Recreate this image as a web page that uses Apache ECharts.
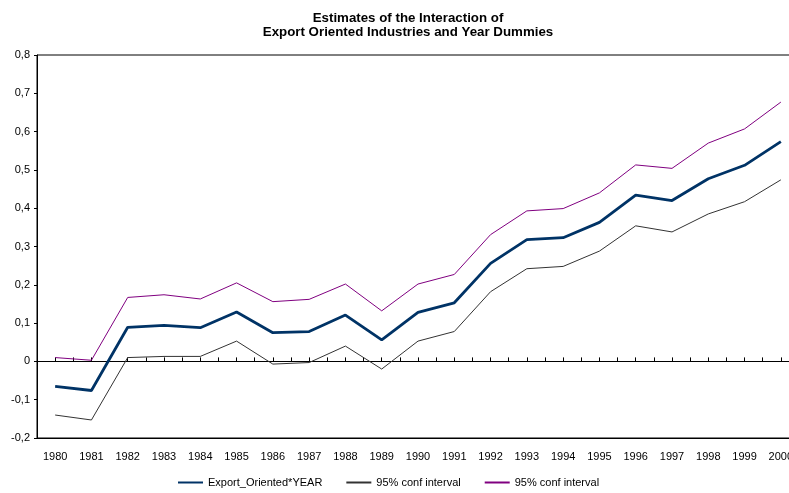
<!DOCTYPE html>
<html>
<head>
<meta charset="utf-8">
<script src="https://cdn.jsdelivr.net/npm/echarts@6/dist/echarts.min.js"></script>
<style>
  html, body { margin: 0; padding: 0; background: #fff; overflow: hidden; }
  #chart { width: 800px; height: 493px; }
</style>
</head>
<body>
<div id="chart"></div>
<script>
// years on the x axis
var years = ['1980', '1981', '1982', '1983', '1984', '1985', '1986', '1987', '1988', '1989', '1990',
    '1991', '1992', '1993', '1994', '1995', '1996', '1997', '1998', '1999', '2000'];
// point estimates
var estimate = [-0.065, -0.076, 0.089, 0.094, 0.088, 0.129, 0.075, 0.078, 0.121, 0.056, 0.128,
    0.153, 0.256, 0.318, 0.323, 0.363, 0.434, 0.420, 0.477, 0.512, 0.574];
// lower bound
var lower = [-0.140, -0.153, 0.010, 0.013, 0.013, 0.053, -0.007, -0.003, 0.040, -0.020, 0.053,
    0.078, 0.182, 0.242, 0.248, 0.288, 0.354, 0.338, 0.385, 0.417, 0.474];
// upper bound
var upper = [0.010, 0.003, 0.167, 0.174, 0.163, 0.205, 0.156, 0.162, 0.202, 0.132, 0.202,
    0.227, 0.331, 0.393, 0.399, 0.440, 0.513, 0.504, 0.570, 0.607, 0.677];

var font = 'Liberation Sans, Arial, sans-serif';
// the div is a little wider than the window so the plot runs off the right edge, like the original
var myChart = echarts.init(document.getElementById('chart'));
myChart.setOption({
    animation: false,
    backgroundColor: '#fff',
    title: {
        text: 'Estimates of the Interaction of\nExport Oriented Industries and Year Dummies',
        left: 403,
        top: 6,
        textAlign: 'center',
        textStyle: {fontFamily: font, fontSize: 13.3, fontWeight: 'bold', color: '#000', lineHeight: 14.5}
    },
    legend: {
        top: 477,
        left: 177,
        padding: 0,
        itemWidth: 25,
        itemHeight: 10,
        itemGap: 23,
        itemStyle: {opacity: 0},
        textStyle: {fontFamily: font, fontSize: 11, color: '#000'},
        data: ['Export_Oriented*YEAR', '95% conf interval', '95% conf interval ']
    },
    grid: {
        left: 37, top: 55, right: 1, bottom: 55,
        show: true, borderColor: '#000', borderWidth: 1
    },
    xAxis: [{
        type: 'category',
        data: years,
        position: 'bottom',
        axisLine: {onZero: false, lineStyle: {color: '#000'}},
        axisTick: {show: false},
        axisLabel: {fontFamily: font, fontSize: 11, color: '#000', margin: 13, interval: 0}
    }, {
        // tick marks along the zero line
        type: 'value',
        min: 0, max: 42, interval: 1,
        position: 'bottom',
        axisLine: {onZero: true, lineStyle: {color: '#000'}},
        axisTick: {show: true, inside: true, length: 4, lineStyle: {color: '#000'}},
        axisLabel: {show: false},
        splitLine: {show: false}
    }],
    yAxis: {
        type: 'value',
        min: -0.2, max: 0.8, interval: 0.1,
        axisLine: {show: true, lineStyle: {color: '#000'}},
        axisTick: {show: true, length: 3, lineStyle: {color: '#000'}},
        splitLine: {show: false},
        axisLabel: {
            fontFamily: font, fontSize: 11, color: '#000', margin: 7,
            formatter: function (v) { return String(Math.round(v * 10) / 10).replace('.', ','); }
        }
    },
    series: [{
        name: 'Export_Oriented*YEAR',
        type: 'line',
        data: estimate,
        symbol: 'none',
        lineStyle: {color: '#003366', width: 2.8},
        itemStyle: {color: '#003366'}
    }, {
        name: '95% conf interval',
        type: 'line',
        data: lower,
        symbol: 'none',
        lineStyle: {color: '#333333', width: 1},
        itemStyle: {color: '#333333'}
    }, {
        name: '95% conf interval ',
        type: 'line',
        data: upper,
        symbol: 'none',
        lineStyle: {color: '#800080', width: 1},
        itemStyle: {color: '#800080'}
    }]
});
</script>
</body>
</html>
